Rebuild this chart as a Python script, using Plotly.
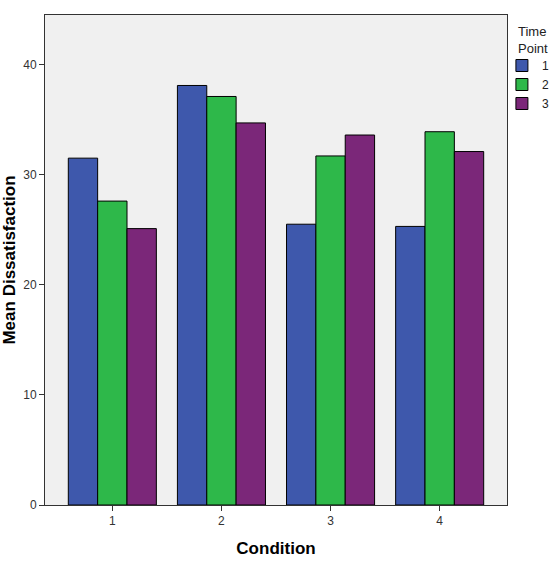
import plotly.graph_objects as go

conditions = [1, 2, 3, 4]
time_points = ["1", "2", "3"]
tp1 = [31.5, 38.1, 25.5, 25.3]
tp2 = [27.6, 37.1, 31.7, 33.9]
tp3 = [25.1, 34.7, 33.6, 32.1]
series = [tp1, tp2, tp3]
colors = ["#3E58AC", "#2EB84A", "#7B2779"]

fig = go.Figure()
for name, vals, col in zip(time_points, series, colors):
    fig.add_trace(go.Bar(
        x=conditions, y=vals, name=name,
        marker=dict(color=col, line=dict(color="black", width=1)),
    ))

fig.update_layout(
    width=550, height=564,
    margin=dict(l=45, r=43, t=15, b=59, autoexpand=False),
    barmode="group", bargap=0.193, bargroupgap=0,
    plot_bgcolor="#F0F0F0", paper_bgcolor="white",
    font=dict(family="Liberation Sans, Arial", size=12, color="#333333"),
    showlegend=True,
    legend=dict(
        x=0.989, y=0.9265, xanchor="left", yanchor="top",
        font=dict(size=12, color="#222222"),
        bgcolor="rgba(0,0,0,0)", tracegroupgap=0, itemwidth=30,
    ),
    annotations=[dict(
        text="Time<br>Point", xref="paper", yref="paper",
        x=(516 - 45) / 462, y=(505 - 22) / 490, xanchor="left", yanchor="top",
        align="left", showarrow=False, font=dict(size=13, color="#222222"),
    )],
    xaxis=dict(
        range=[0.383, 4.617], tickmode="array", tickvals=conditions,
        ticktext=[str(c) for c in conditions],
        ticks="outside", ticklen=5, tickcolor="#333333",
        showline=True, linecolor="#333333", linewidth=1, mirror=True,
        showgrid=False, zeroline=False,
        title=dict(text="<b>Condition</b>", font=dict(size=17, color="black"), standoff=14),
    ),
    yaxis=dict(
        range=[0, 44.5], tickvals=[0, 10, 20, 30, 40],
        ticks="outside", ticklen=5, tickcolor="#333333",
        showline=True, linecolor="#333333", linewidth=1, mirror=True,
        showgrid=False, zeroline=False,
        title=dict(text="<b>Mean Dissatisfaction</b>", font=dict(size=17, color="black"), standoff=6),
    ),
)

fig.write_html("out.html")
